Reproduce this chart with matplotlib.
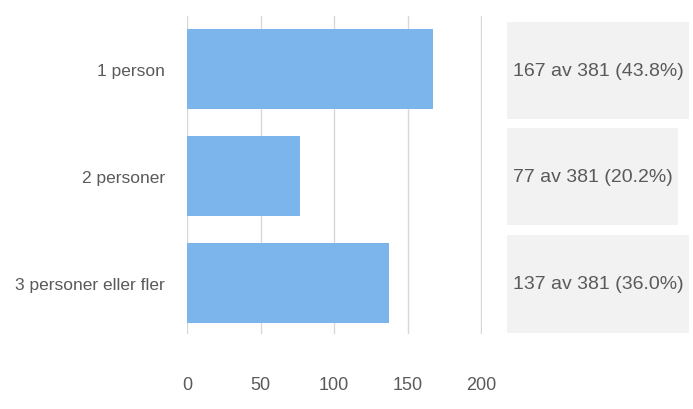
import matplotlib
matplotlib.use("Agg")
import matplotlib.pyplot as plt
from matplotlib.patches import Rectangle

categories = ["1 person", "2 personer", "3 personer eller fler"]
counts = [167, 77, 137]
total = 381
xticks = [0, 50, 100, 150, 200]

plt.rcParams['font.family'] = ['Liberation Sans', 'DejaVu Sans']

fig = plt.figure(figsize=(6.93, 4.10), dpi=100)
ax = fig.add_axes([187 / 693, 1 - 335 / 410, (482 - 187) / 693, (335 - 17) / 410])

ypos = list(range(len(categories)))
ax.barh(ypos, counts, height=0.75, color="#7cb5ec", zorder=2)
ax.set_xlim(0, 200.5)
ax.set_ylim(2.48, -0.5)
ax.set_xticks(xticks)
ax.set_xticklabels([str(t) for t in xticks], fontsize=13, color="#5a5a5a")
ax.set_yticks(ypos)
ax.set_yticklabels(categories, fontsize=12.5, color="#5a5a5a")
ax.tick_params(axis="both", length=0)
ax.tick_params(axis="x", pad=30)
ax.tick_params(axis="y", pad=16)
ax.grid(axis="x", color="#d8d8d8", linewidth=1, zorder=0)
for s in ax.spines.values():
    s.set_visible(False)

# summary boxes on the right
fig.canvas.draw()
renderer = fig.canvas.get_renderer()
box_rows = [(23, 120), (129, 226), (236, 334)]
for (top, bot), c in zip(box_rows, counts):
    label = f"{c} av {total} ({c / total * 100:.1f}%)"
    yc = 1 - (top + bot) / 2 / 410
    t = fig.text(513 / 693, yc, label, fontsize=14, color="#5a5a5a",
                 ha="left", va="center", zorder=3)
    bb = t.get_window_extent(renderer)
    x0 = 507
    w = bb.x1 + 5 - x0
    fig.patches.append(Rectangle((x0 / 693, 1 - bot / 410), w / 693, (bot - top) / 410,
                                 transform=fig.transFigure, facecolor="#f2f2f2",
                                 edgecolor="none", zorder=1))

fig.savefig("out.png", dpi=100)
